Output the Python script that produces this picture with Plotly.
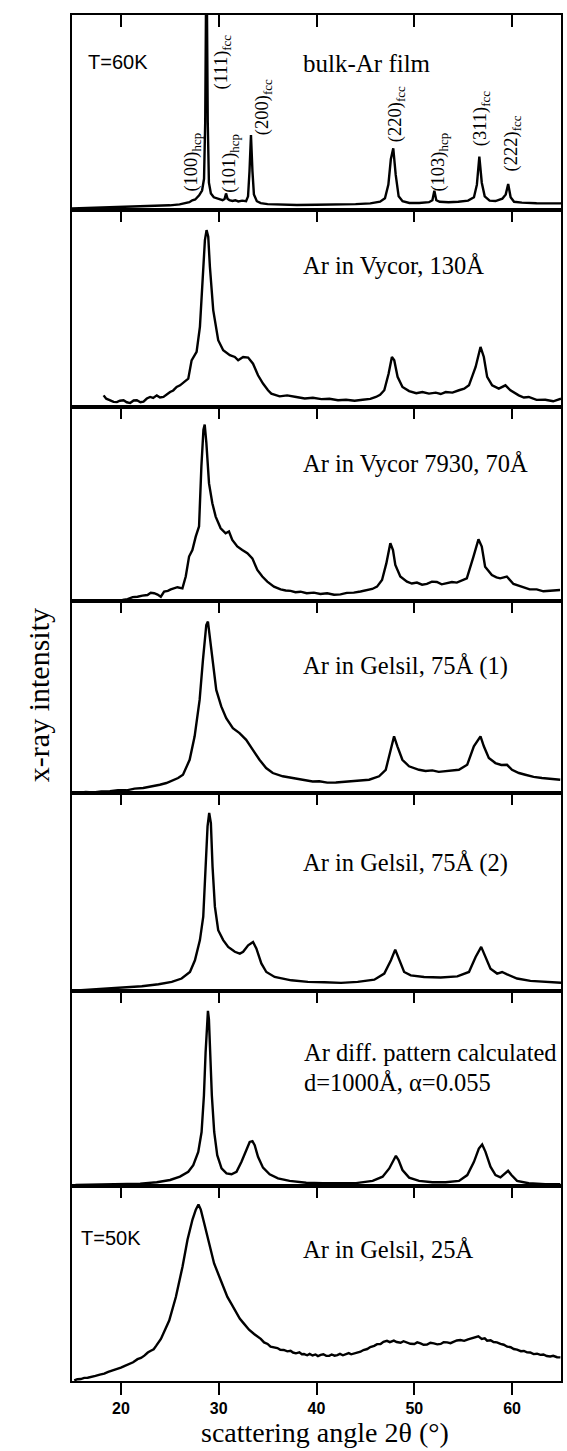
import plotly.graph_objects as go

# ---------------- data (2theta in degrees, intensity in % of panel height) ----------------
x_bulk = [15.0, 16.5, 18.0, 19.5, 21.0, 22.5, 24.0, 25.0, 26.0, 26.6, 27.0, 27.3, 27.6, 28.0, 28.3, 28.5,
          28.62, 28.75, 28.88, 29.0, 29.2, 29.5, 30.0, 30.4, 30.6, 30.75, 30.9, 31.1, 31.4, 31.7, 32.0,
          32.4, 32.8, 33.0, 33.15, 33.3, 33.45, 33.6, 33.9, 34.3, 35.0, 36.5, 38.0, 40.0, 42.0, 44.0,
          45.5, 46.5, 47.0, 47.35, 47.6, 47.85, 48.1, 48.4, 48.8, 49.5, 50.5, 51.5, 51.85, 52.05, 52.25,
          52.6, 53.5, 54.5, 55.5, 56.1, 56.4, 56.65, 56.9, 57.2, 57.7, 58.3, 59.0, 59.35, 59.6, 59.85,
          60.2, 61.0, 62.5, 64.0, 65.0]
y_bulk = [0.8, 1.0, 1.2, 1.3, 1.5, 1.7, 2.0, 2.4, 2.9, 3.5, 4.0, 5.0, 5.4, 7.5, 10, 16,
          45, 140, 45, 14, 8.5, 6.5, 5.5, 5.0, 5.6, 8.5, 5.8, 5.0, 4.6, 5.0, 4.4,
          4.8, 4.5, 7, 20, 38.5, 20, 8, 4.5, 3.5, 3.0, 2.7, 2.6, 2.7, 2.8, 3.0,
          3.4, 4.3, 6, 13, 26, 31.6, 18, 7, 4.5, 3.6, 3.6, 4.0, 5.0, 9.9, 5.0,
          4.2, 4.0, 4.2, 4.8, 6.5, 13, 27.4, 14, 7, 4.8, 4.6, 5.8, 8, 13.3, 6.5,
          4.2, 3.8, 3.5, 3.4, 3.4]

x_vyc130 = [18.23, 18.5, 18.91, 19.25, 19.59, 19.9, 20.27, 20.6, 20.95, 21.3, 21.63, 22.0, 22.31, 22.65,
            22.99, 23.3, 23.67, 24.0, 24.35, 24.7, 25.03, 25.35, 25.70, 26.05, 26.38, 26.89, 27.23, 27.5,
            27.74, 28.08, 28.35, 28.59, 28.76, 28.93, 29.10, 29.44, 29.95, 30.46, 31.14, 31.65, 31.99,
            32.50, 33.01, 33.51, 34.02, 34.53, 35.04, 35.38, 36.23, 37.0, 37.93, 38.8, 39.63, 40.5, 41.32,
            42.2, 43.02, 43.9, 44.72, 45.5, 46.08, 46.5, 46.93, 47.37, 47.71, 47.95, 48.29, 48.79, 49.47,
            50.2, 50.83, 51.5, 52.19, 52.7, 53.21, 53.9, 54.57, 55.1, 55.59, 56.27, 56.77, 57.11, 57.45,
            57.96, 58.64, 59.32, 59.83, 60.68, 61.2, 61.70, 62.5, 63.40, 64.2, 65.0]
y_vyc130 = [5.9, 4.2, 3.4, 2.6, 2.5, 3.2, 3.4, 2.4, 2.0, 3.3, 3.4, 2.4, 2.7, 4.3,
            5.1, 4.6, 5.9, 4.8, 5.1, 6.6, 7.6, 8.4, 10.2, 11.0, 12.2, 14.4, 23.7, 26,
            28, 40.7, 66, 84.7, 89.8, 86.4, 71.2, 49.2, 33.9, 28.8, 26.3, 25.4, 23.7,
            25.4, 25.1, 22, 16.1, 11.9, 8.5, 6.8, 5.4, 5.9, 5.1, 4.3, 4.7, 4.0, 4.2,
            3.4, 3.7, 3.2, 3.7, 4.1, 5.1, 6.2, 8.5, 16.9, 25.4, 23.7, 15.3, 10.2, 8.1,
            7.0, 7.6, 6.8, 7.3, 6.6, 7.6, 7.3, 8.5, 9.3, 11, 20.3, 30.5, 25.4, 15.3,
            11, 9.3, 11, 8.5, 5.9, 4.8, 5.1, 3.6, 3.7, 2.9, 4.2]

x_vyc70 = [20.17, 20.68, 21.2, 21.70, 22.2, 22.72, 23.05, 23.40, 23.75, 24.08, 24.42, 24.8, 25.10, 25.45,
           25.78, 26.29, 26.63, 26.97, 27.31, 27.65, 27.99, 28.23, 28.44, 28.57, 28.74, 29.01, 29.35,
           29.69, 30.20, 30.71, 31.05, 31.39, 31.90, 32.41, 32.93, 33.44, 33.95, 34.46, 34.97, 35.65,
           36.33, 36.85, 37.35, 37.85, 38.37, 39.0, 39.73, 40.4, 41.09, 41.8, 42.45, 43.1, 43.81, 44.5,
           45.17, 45.7, 46.19, 46.70, 47.14, 47.55, 47.82, 48.06, 48.57, 49.25, 49.75, 50.27, 50.8,
           51.29, 51.8, 52.31, 52.8, 53.33, 53.85, 54.35, 54.9, 55.37, 56.05, 56.56, 56.90, 57.24,
           57.93, 58.4, 58.78, 59.46, 60.14, 60.6, 61.16, 61.8, 62.52, 63.2, 63.88, 64.90]
y_vyc70 = [0.5, 1.0, 2.0, 2.2, 2.8, 3.1, 4.2, 4.0, 3.3, 2.2, 4.8, 5.2, 6.0, 6.6,
           7.1, 6.5, 12.6, 22.9, 26.3, 33.2, 38.4, 69.4, 88.3, 90.9, 81.4, 60.6, 50.4,
           43.5, 37.5, 34.9, 35.8, 31.5, 28.1, 26.3, 24.6, 22.0, 16.0, 12.6, 10.0, 7.4,
           6.0, 5.4, 5.2, 4.5, 4.8, 4.0, 4.3, 3.6, 4.0, 3.2, 3.4, 4.2, 4.3, 4.9,
           5.7, 6.2, 7.4, 10.8, 19.4, 29.8, 26.3, 18.6, 12.6, 10.0, 9.0, 9.5, 8.4,
           8.8, 10.0, 9.8, 8.6, 9.1, 9.8, 9.5, 10.5, 11.7, 22.9, 31.8, 28.1, 17.7,
           13.4, 12.2, 11.7, 12.6, 8.8, 8.0, 7.1, 6.0, 6.0, 5.0, 5.3, 5.7]

x_gel75a = [15.65, 16.4, 17.18, 18.0, 18.88, 19.7, 20.58, 21.4, 22.28, 23.1, 23.98, 24.65, 25.33, 25.85,
            26.35, 27.03, 27.54, 28.05, 28.39, 28.73, 28.90, 29.07, 29.41, 29.75, 30.26, 30.77, 31.45,
            32.13, 32.81, 33.49, 34.17, 34.85, 35.53, 36.55, 37.57, 38.25, 38.93, 39.6, 40.29, 41.1,
            41.98, 42.8, 43.68, 44.5, 45.38, 46.40, 47.08, 47.59, 47.93, 48.27, 48.78, 49.46, 50.48,
            51.15, 51.84, 52.5, 53.20, 53.9, 54.56, 55.41, 56.09, 56.77, 57.11, 57.62, 58.29, 58.9,
            59.48, 59.99, 60.7, 61.35, 62.2, 63.05, 64.0, 64.92]
y_gel75a = [0.0, 0.5, 0.3, 0.8, 0.9, 1.5, 1.4, 2.3, 2.6, 3.3, 4.3, 5.2, 6.9, 7.8,
            9.5, 17.3, 29.5, 48.5, 69.3, 87.5, 89.3, 81.5, 65.9, 53.7, 45.1, 39.0, 33.8,
            31.2, 27.7, 22.5, 17.3, 13.0, 10.4, 8.7, 7.8, 7.0, 6.6, 6.0, 6.1, 5.4,
            5.5, 5.9, 6.1, 6.4, 6.9, 8.7, 12.1, 22.5, 29.5, 24.3, 17.3, 13.9, 12.1,
            11.5, 11.8, 11.0, 11.3, 11.7, 12.1, 14.7, 24.3, 29.5, 24.3, 18.2, 15.6, 14.6,
            14.7, 12.1, 10.4, 9.5, 8.4, 7.8, 7.3, 6.9]

x_gel75b = [15.52, 17.05, 18.74, 20.44, 22.14, 23.84, 25.20, 26.21, 27.06, 27.57, 28.08, 28.42, 28.66,
            28.86, 29.03, 29.20, 29.37, 29.61, 29.95, 30.46, 30.97, 31.65, 32.16, 32.50, 33.01, 33.51,
            33.85, 34.36, 34.87, 35.72, 37.42, 39.12, 40.81, 42.51, 44.21, 45.91, 46.93, 47.61, 48.05,
            48.45, 48.96, 49.64, 51.00, 52.70, 54.40, 55.59, 56.27, 56.84, 57.28, 57.79, 58.47, 58.98,
            59.49, 60.51, 61.87, 63.23, 65.0]
y_gel75b = [0.3, 0.7, 1.2, 1.7, 2.4, 3.4, 4.6, 6.3, 9.6, 15.5, 25.7, 37.5, 62.8,
            83.1, 89.9, 84.8, 62.8, 42.6, 30.7, 25.7, 22.3, 19.8, 18.9, 19.8, 23.1, 24.8,
            21.5, 13.9, 9.6, 7.1, 5.4, 4.6, 4.4, 4.1, 4.6, 5.7, 8.8, 15.5, 20.9,
            15.5, 9.6, 7.9, 7.1, 6.8, 7.4, 9.6, 17.2, 22.3, 17.2, 11.3, 8.8, 9.6,
            8.4, 6.3, 5.1, 4.6, 4.2]

x_calc = [15.35, 18.57, 21.97, 23.67, 25.03, 26.04, 26.89, 27.40, 27.91, 28.25, 28.49, 28.66, 28.79,
          28.90, 29.00, 29.13, 29.30, 29.54, 29.85, 30.29, 30.80, 31.31, 31.82, 32.33, 32.84, 33.17,
          33.45, 33.68, 34.02, 34.53, 35.21, 36.06, 37.25, 38.95, 40.65, 42.34, 44.04, 45.74, 46.76,
          47.44, 47.84, 48.12, 48.39, 48.79, 49.47, 50.49, 51.85, 53.21, 54.57, 55.42, 56.10, 56.60,
          56.94, 57.28, 57.79, 58.30, 58.81, 59.32, 59.59, 59.93, 60.51, 61.70, 63.40, 64.92]
y_calc = [0.5, 0.9, 1.2, 1.9, 3.1, 4.8, 7.3, 10.7, 17.5, 27.7, 46.4, 68.5, 85.5,
          89.8, 85.5, 68.5, 46.4, 27.7, 15.8, 9.0, 6.5, 6.0, 7.3, 12.4, 19.2, 22.6,
          23.0, 20.9, 15.0, 9.4, 6.0, 3.9, 2.6, 1.7, 1.4, 1.4, 1.5, 2.6, 4.8,
          9.0, 13.3, 15.5, 13.3, 8.2, 4.3, 2.6, 1.9, 1.9, 2.6, 5.6, 12.4, 19.2,
          21.3, 17.5, 9.9, 5.6, 4.4, 6.5, 7.8, 5.6, 2.6, 1.4, 0.9, 0.9]

x_gel25 = [15.23, 15.55, 15.9, 16.25, 16.6, 17.0, 17.4, 17.85, 18.3, 18.7, 19.1, 19.55, 20.0, 20.4,
           20.8, 21.25, 21.7, 22.05, 22.4, 22.75, 23.06, 23.35, 23.6, 23.85, 24.09, 24.94, 25.62,
           26.30, 26.81, 27.32, 27.66, 27.93, 28.17, 28.51, 29.02, 29.53, 30.21, 30.55, 30.89, 31.3,
           31.74, 32.15, 32.60, 33.1, 33.62, 33.95, 34.3, 34.64, 35.0, 35.3, 35.66, 36.0, 36.3, 36.65,
           37.02, 37.35, 37.6, 37.9, 38.25, 38.5, 38.72, 39.05, 39.3, 39.6, 39.9, 40.15, 40.43, 40.7,
           41.0, 41.3, 41.55, 41.85, 42.13, 42.4, 42.7, 43.0, 43.3, 43.55, 43.83, 44.15, 44.5, 44.8,
           45.19, 45.5, 45.9, 46.2, 46.55, 46.85, 47.2, 47.5, 47.91, 48.2, 48.6, 48.9, 49.28, 49.6,
           50.0, 50.3, 50.64, 50.95, 51.3, 51.65, 52.0, 52.35, 52.7, 53.0, 53.36, 53.7, 54.0, 54.35,
           54.72, 55.1, 55.5, 55.85, 56.26, 56.55, 56.9, 57.2, 57.45, 57.8, 58.1, 58.45, 58.81, 59.15,
           59.5, 59.85, 60.17, 60.5, 60.9, 61.2, 61.53, 61.85, 62.2, 62.55, 62.89, 63.2, 63.55, 63.9,
           64.2, 64.6, 64.94]
y_gel25 = [0.3, 0.9, 1.0, 1.6, 1.7, 2.0, 2.6, 3.3, 3.8, 4.7, 5.4, 5.9, 6.9, 7.8,
           8.6, 9.6, 11.2, 11.8, 13.0, 14.6, 15.5, 16.3, 18.0, 19.6, 21.6, 31.0, 43.1,
           58.6, 72.4, 82.8, 87.9, 90.5, 87.9, 81.0, 70.7, 60.3, 51.7, 47.5, 43.1, 39.6,
           35.3, 32.0, 29.3, 26.3, 24.1, 23.0, 21.6, 19.8, 19.0, 17.6, 17.2, 16.9, 16.0, 15.9,
           15.2, 15.5, 14.6, 14.2, 14.7, 13.7, 13.8, 13.2, 13.9, 13.1, 13.6, 12.8, 13.4, 13.7,
           12.9, 12.9, 13.6, 13.0, 13.3, 13.9, 13.2, 13.6, 14.3, 13.7, 14.1, 14.9, 15.0, 15.9,
           16.4, 17.4, 18.0, 18.9, 19.0, 20.1, 20.6, 19.9, 20.7, 20.0, 19.6, 20.4, 19.8, 19.1,
           19.0, 19.8, 19.3, 18.6, 18.7, 19.6, 19.3, 18.8, 19.0, 19.9, 19.8, 19.4, 20.1, 20.8,
           21.0, 20.6, 21.4, 22.0, 22.4, 22.9, 21.6, 21.9, 20.7, 20.9, 20.0, 19.8, 19.0, 18.6,
           17.6, 17.3, 16.4, 16.1, 15.3, 15.4, 14.7, 14.6, 13.8, 14.0, 13.4, 13.6, 12.8, 12.6,
           12.9, 12.2, 12.1]

series_x = [x_bulk, x_vyc130, x_vyc70, x_gel75a, x_gel75b, x_calc, x_gel25]
series_y = [y_bulk, y_vyc130, y_vyc70, y_gel75a, y_gel75b, y_calc, y_gel25]

tick_vals = [20, 30, 40, 50, 60]
tick_text = ["20", "30", "40", "50", "60"]

# peak labels of the bulk film panel
peak_names = ["(100)", "(111)", "(101)", "(200)", "(220)", "(103)", "(311)", "(222)"]
peak_phase = ["hcp", "fcc", "hcp", "fcc", "fcc", "hcp", "fcc", "fcc"]
peak_lx = [27.29, 30.34, 31.19, 34.58, 48.14, 52.54, 56.95, 60.0]
peak_ly = [24.4, 75.7, 23.9, 53.0, 49.2, 24.4, 46.7, 34.2]

# ---------------- layout ----------------
W, H = 567, 1451
ML, MR, MT, MB = 72, 4, 15, 70
bounds_px = [15, 210, 407, 601, 793, 991, 1186, 1381]
plot_h = H - MT - MB

def py(px):
    return (H - MB - px) / plot_h

SERIF = "Liberation Serif"
SANS = "Liberation Sans"

fig = go.Figure()
layout = dict(width=W, height=H, margin=dict(l=ML, r=MR, t=MT, b=MB),
              paper_bgcolor="white", plot_bgcolor="white", showlegend=False)

for i in range(7):
    n = i + 1
    xa = "x" if n == 1 else f"x{n}"
    ya = "y" if n == 1 else f"y{n}"
    fig.add_trace(go.Scatter(x=series_x[i], y=series_y[i], mode="lines",
                             line=dict(color="black", width=2.4),
                             xaxis=xa, yaxis=ya, hoverinfo="skip"))
    dom = [py(bounds_px[i + 1]), py(bounds_px[i])]
    xkey = "xaxis" if n == 1 else f"xaxis{n}"
    ykey = "yaxis" if n == 1 else f"yaxis{n}"
    if n < 7:
        layout[xkey] = dict(domain=[0, 1], anchor=ya, range=[15, 65], side="top",
                            tickvals=tick_vals, ticks="inside", ticklen=12, tickwidth=2,
                            tickcolor="black", showticklabels=False, showline=True,
                            linecolor="black", linewidth=2, mirror=True,
                            showgrid=False, zeroline=False)
    else:
        layout[xkey] = dict(domain=[0, 1], anchor=ya, range=[15, 65], side="bottom",
                            tickvals=tick_vals, ticktext=tick_text, ticks="outside",
                            ticklen=12, tickwidth=2, tickcolor="black",
                            tickfont=dict(family=SANS, size=16, color="black", weight="bold"),
                            ticklabelstandoff=0,
                            showline=True, linecolor="black", linewidth=2, mirror=True,
                            showgrid=False, zeroline=False)
    layout[ykey] = dict(domain=dom, anchor=xa, range=[0, 100], showline=True,
                        linecolor="black", linewidth=2, mirror=True, ticks="",
                        showticklabels=False, showgrid=False, zeroline=False)

# extra top axis for the lowest panel (inward ticks)
layout["xaxis8"] = dict(overlaying="x7", anchor="y7", side="top", range=[15, 65],
                        tickvals=tick_vals, ticks="inside", ticklen=12, tickwidth=2,
                        tickcolor="black", showticklabels=False, showline=False,
                        showgrid=False, zeroline=False)
fig.add_trace(go.Scatter(x=[15], y=[-10], mode="markers", marker=dict(size=1, color="white"),
                         xaxis="x8", yaxis="y7", hoverinfo="skip"))

ann = []
def txt(text, xref, yref, x, y, size, family, xanchor="center", angle=0):
    ann.append(dict(text=text, xref=xref, yref=yref, x=x, y=y, showarrow=False,
                    xanchor=xanchor, yanchor="middle", textangle=angle,
                    font=dict(family=family, size=size, color="black")))

txt("T=60K", "x", "y", 16.44, 75.7, 20, SANS, xanchor="left")
txt("bulk-Ar film", "x", "y", 45.15, 75.2, 25, SERIF)
for nm, ph, lx, ly in zip(peak_names, peak_phase, peak_lx, peak_ly):
    txt(f"{nm}<sub>{ph}</sub>", "x", "y", lx, ly, 18.5, SERIF, angle=-90)
txt("Ar in Vycor, 130Å", "x2", "y2", 47.84, 72.0, 24.5, SERIF)
txt("Ar in Vycor 7930, 70Å", "x3", "y3", 50.1, 71.1, 24.5, SERIF)
txt("Ar in Gelsil, 75Å (1)", "x4", "y4", 49.1, 65.9, 24.5, SERIF)
txt("Ar in Gelsil, 75Å (2)", "x5", "y5", 49.13, 64.5, 24.5, SERIF)
txt("Ar diff. pattern calculated", "x6", "y6", 38.54, 68.5, 24.5, SERIF, xanchor="left")
txt("d=1000Å, α=0.055", "x6", "y6", 38.54, 53.2, 24.5, SERIF, xanchor="left")
txt("T=50K", "x7", "y7", 15.74, 73.3, 20, SANS, xanchor="left")
txt("Ar in Gelsil, 25Å", "x7", "y7", 47.3, 67.2, 24.5, SERIF)

# axis titles
txt("scattering angle 2θ (°)", "paper", "paper", (326 - ML) / (W - ML - MR), py(1432), 28, SERIF)
txt("x-ray intensity", "paper", "paper", (38 - ML) / (W - ML - MR), py(695), 30, SERIF, angle=-90)

layout["annotations"] = ann
fig.update_layout(**layout)
fig.write_html("out.html")
